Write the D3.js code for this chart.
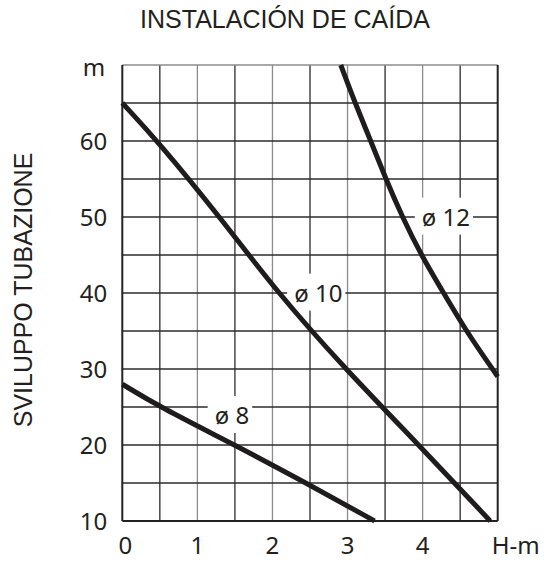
<!DOCTYPE html>
<html>
<head>
<meta charset="utf-8">
<script src="https://cdn.jsdelivr.net/npm/d3@7"></script>
<style>
  body { margin: 0; background: #fff; }
</style>
</head>
<body>
<div id="chart"></div>
<script>
// Chart values: x = H (m), y = pipe length (m)
const xTicks = [0, 1, 2, 3, 4];
const yTicks = [10, 20, 30, 40, 50, 60];
const pipe8 = [[0, 28], [0.5, 25], [1.5, 20], [2.45, 15], [3.36, 10]];
const pipe10 = [[0, 65], [0.47, 60], [1.3, 50], [2.07, 40], [2.97, 30], [3.95, 20], [4.9, 10]];
const pipe12 = [[2.91, 70], [3.1, 65], [3.31, 60], [3.51, 55], [3.73, 50], [3.98, 45],
                [4.28, 40], [4.58, 35], [4.93, 30], [5, 29]];
const curveLabels = [
    { text: "ø 8", x: 1.46, y: 23.9 },
    { text: "ø 10", x: 2.61, y: 40 },
    { text: "ø 12", x: 4.31, y: 50 }
];

const width = 544, height = 562;
const margin = { top: 65, right: 46.3, bottom: 41, left: 122.3 };

const svg = d3.select("#chart").append("svg")
    .attr("width", width)
    .attr("height", height);

const x = d3.scaleLinear().domain([0, 5]).range([margin.left, width - margin.right]);
const y = d3.scaleLinear().domain([10, 70]).range([height - margin.bottom, margin.top]);

const tickFont = "'Noto Sans', sans-serif";
const titleFont = "'Liberation Sans', Arial, sans-serif";

// 1. Grid
const grid = svg.append("g").attr("class", "grid");
grid.selectAll(".v")
    .data(d3.range(0.5, 5, 0.5))
    .join("line")
    .attr("x1", d => x(d)).attr("x2", d => x(d))
    .attr("y1", y(10)).attr("y2", y(70))
    .attr("stroke", d => Number.isInteger(d) ? "#8c8c8c" : "#2b2b2b")
    .attr("stroke-width", 1.3);
grid.selectAll(".h")
    .data(d3.range(15, 70, 5))
    .join("line")
    .attr("x1", x(0)).attr("x2", x(5))
    .attr("y1", d => y(d)).attr("y2", d => y(d))
    .attr("stroke", "#2b2b2b")
    .attr("stroke-width", 1.3);

// frame: top lighter, others dark
grid.append("line")
    .attr("x1", x(0)).attr("x2", x(5)).attr("y1", y(70)).attr("y2", y(70))
    .attr("stroke", "#8c8c8c").attr("stroke-width", 1.6);
grid.append("line")
    .attr("x1", x(0)).attr("x2", x(5)).attr("y1", y(10)).attr("y2", y(10))
    .attr("stroke", "#222").attr("stroke-width", 2);
grid.append("line")
    .attr("x1", x(0)).attr("x2", x(0)).attr("y1", y(70)).attr("y2", y(10))
    .attr("stroke", "#222").attr("stroke-width", 2);
grid.append("line")
    .attr("x1", x(5)).attr("x2", x(5)).attr("y1", y(70)).attr("y2", y(10))
    .attr("stroke", "#222").attr("stroke-width", 2);

// 2. White boxes under the curve labels (they break the grid lines)
const boxes = svg.append("g").attr("class", "boxes");

// 3. Curves (basis smooths the read-off points a little)
const line = d3.line()
    .x(d => x(d[0]))
    .y(d => y(d[1]))
    .curve(d3.curveBasis);
svg.append("g").attr("class", "curves")
    .selectAll("path")
    .data([pipe8, pipe10, pipe12])
    .join("path")
    .attr("d", line)
    .attr("fill", "none")
    .attr("stroke", "#1e1c1c")
    .attr("stroke-width", 5);

// 4. Curve labels
svg.append("g").attr("class", "labels")
    .selectAll("text")
    .data(curveLabels)
    .join("text")
    .attr("x", d => x(d.x))
    .attr("y", d => y(d.y))
    .attr("dy", "0.36em")
    .attr("text-anchor", "middle")
    .style("font-family", tickFont)
    .style("font-size", "24px")
    .style("fill", "#231f20")
    .text(d => d.text)
    .each(function() {
        const b = this.getBBox();
        boxes.append("rect")
            .attr("x", b.x - 7)
            .attr("y", b.y - 2)
            .attr("width", b.width + 10)
            .attr("height", b.height + 4)
            .attr("fill", "#fff");
    });

// 5. Axis labels
svg.append("g").selectAll("text")
    .data(yTicks)
    .join("text")
    .attr("x", x(0) - 15)
    .attr("y", d => y(d))
    .attr("dy", "0.36em")
    .attr("text-anchor", "end")
    .style("font-family", tickFont)
    .style("font-size", "24px")
    .style("fill", "#231f20")
    .text(d => d);
svg.append("text")
    .attr("x", x(0) - 17)
    .attr("y", y(70) + 11)
    .attr("text-anchor", "end")
    .style("font-family", tickFont)
    .style("font-size", "24px")
    .style("fill", "#231f20")
    .text("m");

svg.append("g").selectAll("text")
    .data(xTicks)
    .join("text")
    .attr("x", d => x(d) + (d === 0 ? 3 : 0))
    .attr("y", 554)
    .attr("text-anchor", "middle")
    .style("font-family", tickFont)
    .style("font-size", "24px")
    .style("fill", "#231f20")
    .text(d => d);
svg.append("text")
    .attr("x", x(5) + 18)
    .attr("y", 554)
    .attr("text-anchor", "middle")
    .style("font-family", tickFont)
    .style("font-size", "24px")
    .style("fill", "#231f20")
    .text("H-m");

// 6. Titles
svg.append("text")
    .attr("x", 285)
    .attr("y", 28)
    .attr("text-anchor", "middle")
    .style("font-family", titleFont)
    .style("font-size", "25px")
    .style("fill", "#231f20")
    .text("INSTALACIÓN DE CAÍDA");
svg.append("text")
    .attr("transform", "translate(32,290) rotate(-90)")
    .attr("text-anchor", "middle")
    .style("font-family", titleFont)
    .style("font-size", "25px")
    .style("fill", "#231f20")
    .text("SVILUPPO TUBAZIONE");
</script>
</body>
</html>
